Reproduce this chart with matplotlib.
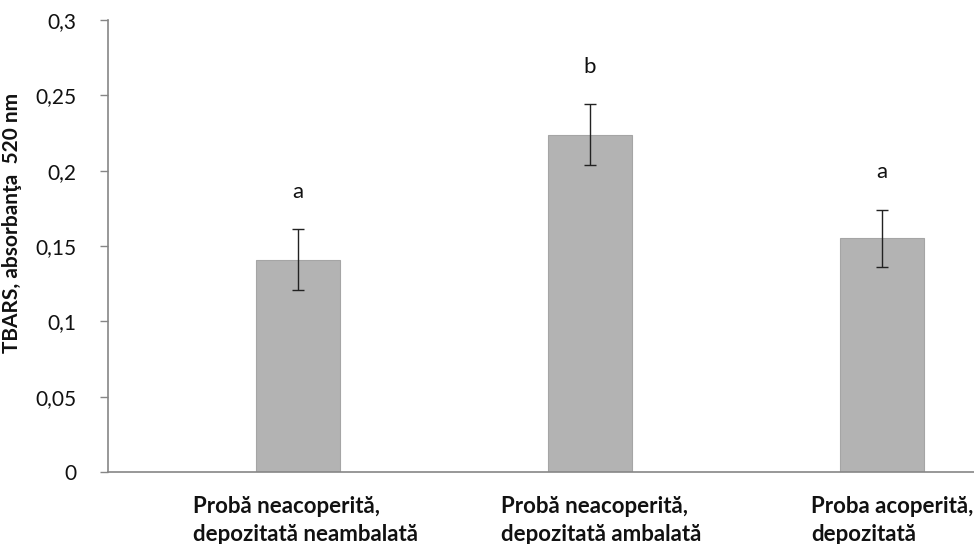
import matplotlib
matplotlib.use("Agg")
import matplotlib.pyplot as plt
from matplotlib.ticker import FuncFormatter

categories = ["Probă neacoperită,\ndepozitată neambalată",
              "Probă neacoperită,\ndepozitată ambalată",
              "Proba acoperită,\ndepozitată"]
values = [0.141, 0.224, 0.155]
errors = [0.020, 0.020, 0.019]
letters = ["a", "b", "a"]
yticks = [0, 0.05, 0.1, 0.15, 0.2, 0.25, 0.3]

plt.rcParams['font.family'] = ['Lato', 'DejaVu Sans']

fig = plt.figure(figsize=(9.74, 5.44), dpi=100)
ax = fig.add_axes([108/974, 1 - 472/544, 876/974, 452/544])

x = list(range(len(categories)))
ax.bar(x, values, width=0.288, color="#b3b3b3", edgecolor="#a5a5a5", linewidth=0.8, zorder=2)
ax.errorbar(x, values, yerr=errors, fmt="none", ecolor="#222222", elinewidth=1.0,
            capsize=4.5, capthick=1.0, zorder=3)
for xi, v, e, l in zip(x, values, errors, letters):
    ax.text(xi, v + e + 0.025, l, ha="center", va="center", fontsize=16, color="#111111")

ax.set_xlim(-0.6507, 2.3493)
ax.set_ylim(0, 0.3)
ax.set_yticks(yticks)
ax.yaxis.set_major_formatter(FuncFormatter(lambda v, p: ("%g" % v).replace(".", ",")))
ax.set_xticks(x)
ax.set_xticklabels([])
ax.tick_params(axis="x", length=0)
ax.tick_params(axis="y", length=6, width=1, color="#868686", labelsize=15, pad=17, labelcolor="#111111")

for s in ["top", "right"]:
    ax.spines[s].set_visible(False)
for s in ["left", "bottom"]:
    ax.spines[s].set_color("#868686")
    ax.spines[s].set_linewidth(1.2)

# category labels
label_offsets = [0.025, 0.04, 0.035]
for xi, c, off in zip(x, categories, label_offsets):
    ax.text(xi + off, -0.054, c, ha="center", va="top", multialignment="left",
            fontsize=16, fontweight="bold", color="#111111",
            transform=ax.get_xaxis_transform(), linespacing=1.4, clip_on=False)

ax.set_ylabel("TBARS, absorbanţa  520 nm", fontsize=15, fontweight="bold", color="#111111")
ax.yaxis.set_label_coords(-0.098, 0.55)

fig.savefig("out.png", dpi=100)
